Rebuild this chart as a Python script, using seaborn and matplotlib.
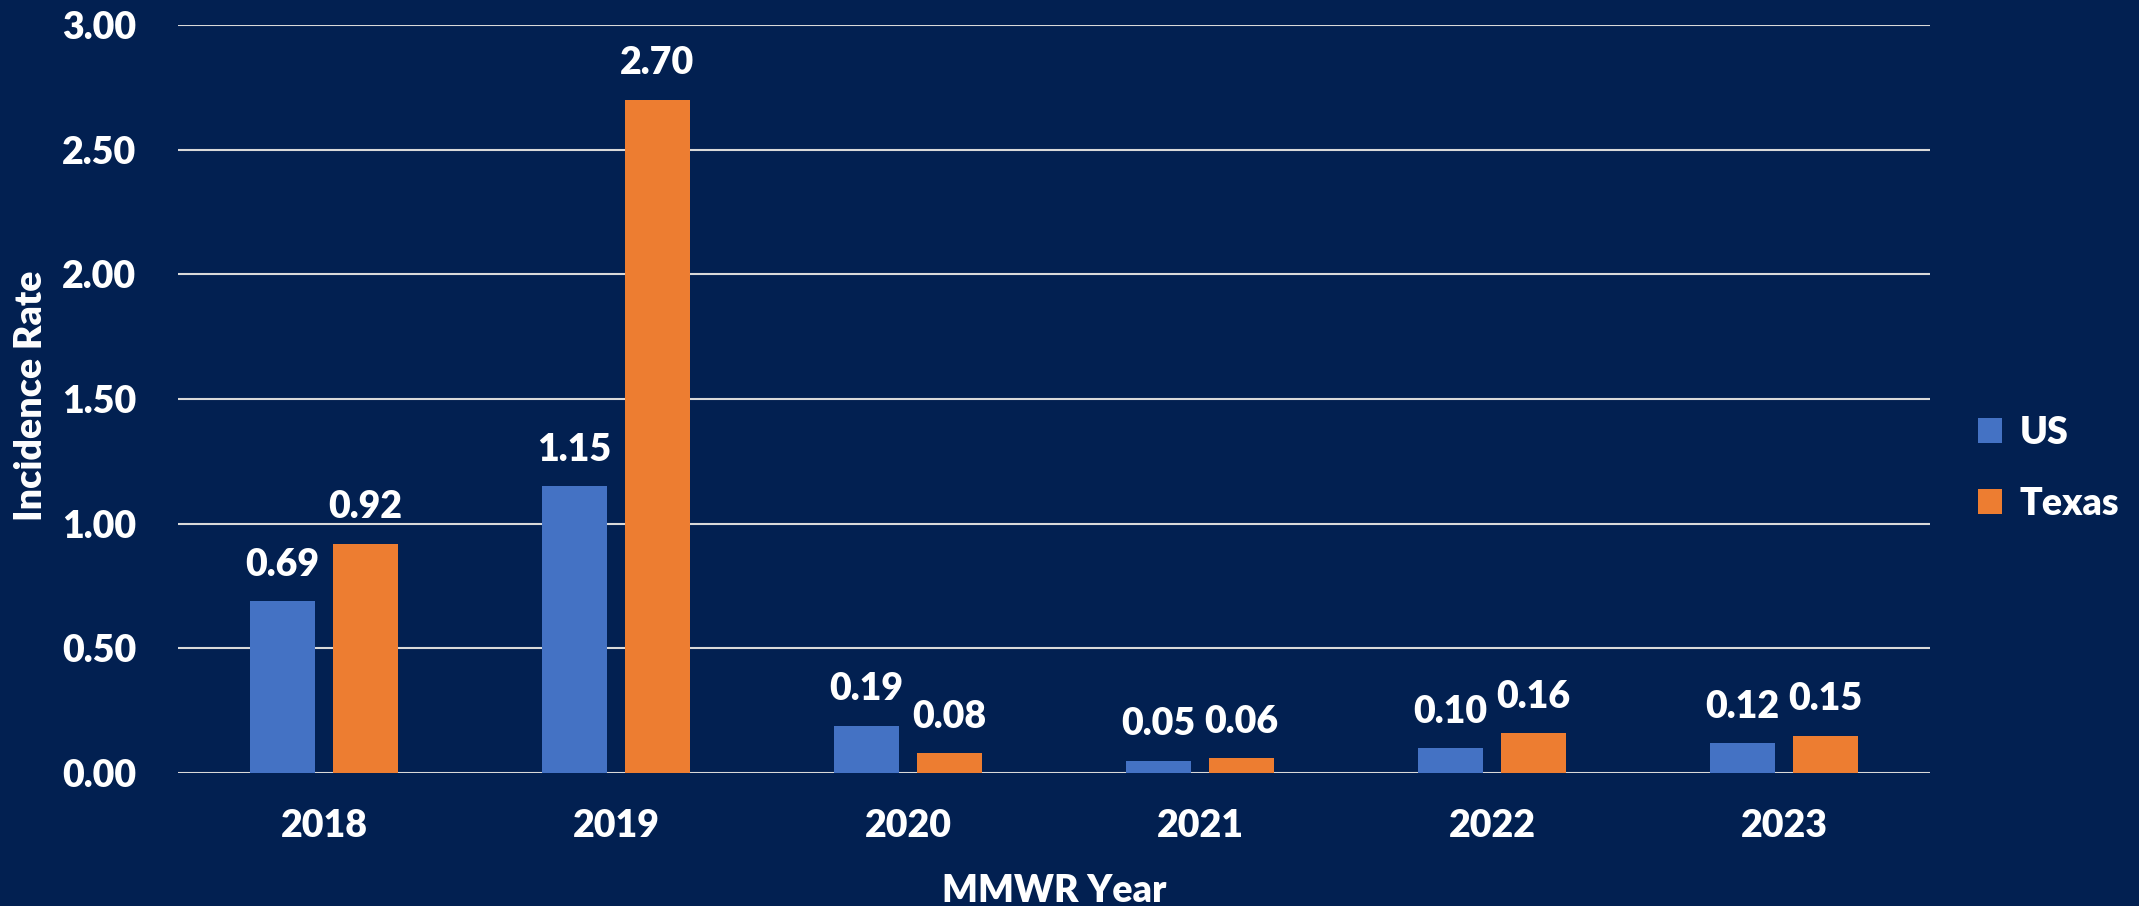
import pandas as pd
import matplotlib.pyplot as plt
import seaborn as sns

# Chart data
years = ["2018", "2019", "2020", "2021", "2022", "2023"]
us_rate = [0.69, 1.15, 0.19, 0.05, 0.10, 0.12]
texas_rate = [0.92, 2.70, 0.08, 0.06, 0.16, 0.15]
series_names = ["US", "Texas"]
y_ticks = [0.0, 0.5, 1.0, 1.5, 2.0, 2.5, 3.0]

bg = "#022051"
colors = ["#4472C4", "#ED7D31"]

df = pd.DataFrame({
    "year": years * 2,
    "rate": us_rate + texas_rate,
    "region": [series_names[0]] * len(years) + [series_names[1]] * len(years),
})

sns.set_theme(style="white")
plt.rcParams["font.family"] = ["Lato", "DejaVu Sans"]
plt.rcParams["font.weight"] = "heavy"

fig = plt.figure(figsize=(21.39, 9.06), dpi=100, facecolor=bg)
ax = fig.add_axes([0.0832, 0.1468, 0.8191, 0.8256])
ax.set_facecolor(bg)

sns.barplot(data=df, x="year", y="rate", hue="region", palette=colors,
            width=0.568, gap=0.215, ax=ax, saturation=1, legend=True,
            linewidth=0)

# value labels
for cont in ax.containers:
    ax.bar_label(cont, fmt="%.2f", padding=14, color="white",
                 fontsize=27, fontweight="heavy")

ax.set_ylim(0, 3)
ax.set_yticks(y_ticks)
ax.set_yticklabels([f"{t:.2f}" for t in y_ticks])
ax.set_xlim(-0.5, len(years) - 0.5)
ax.yaxis.grid(True, color="#D9D9D9", linewidth=1.5)
ax.set_axisbelow(True)
for s in ax.spines.values():
    s.set_visible(False)
ax.tick_params(axis="both", length=0, colors="white", labelsize=27)
ax.tick_params(axis="y", pad=30)
ax.tick_params(axis="x", pad=26)
for lab in ax.get_xticklabels() + ax.get_yticklabels():
    lab.set_fontweight("heavy")

ax.set_xlabel("MMWR Year", color="white", fontsize=27, fontweight="heavy", labelpad=22)
ax.set_ylabel("Incidence Rate", color="white", fontsize=27, fontweight="heavy")
ax.yaxis.set_label_coords(-0.074, 0.505)

leg = ax.legend(loc="center left", bbox_to_anchor=(0.909, 0.483),
                bbox_transform=fig.transFigure, frameon=False,
                handlelength=0.65, handleheight=0.65, handletextpad=0.45,
                labelspacing=1.0, fontsize=27)
for t in leg.get_texts():
    t.set_color("white")
    t.set_fontweight("heavy")

fig.savefig("out.png", dpi=100, facecolor=bg)
